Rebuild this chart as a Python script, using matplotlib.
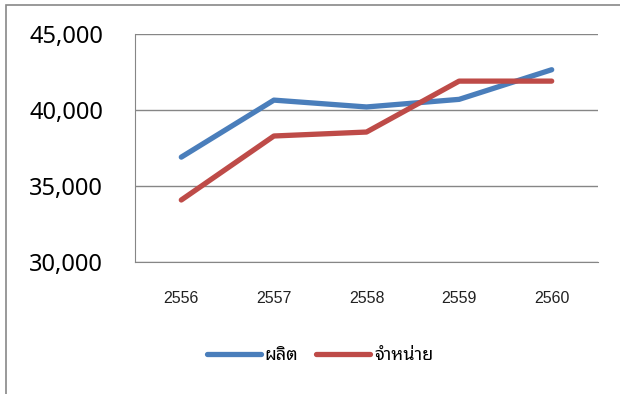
import matplotlib
matplotlib.use('Agg')
import matplotlib.pyplot as plt
from matplotlib.patches import Rectangle
from matplotlib.ticker import FuncFormatter

plt.rcParams['font.family'] = ['Noto Sans Thai Looped', 'DejaVu Sans']

YEARS = ['2556', '2557', '2558', '2559', '2560']
PRODUCED = [36900, 40650, 40200, 40700, 42650]  # ผลิต
SOLD = [34080, 38290, 38550, 41900, 41900]  # จำหน่าย
LABELS = ['ผลิต', 'จำหน่าย']


def main():
    fig = plt.figure(figsize=(6.2, 3.94), dpi=100)
    # chart area border like excel
    fig.patches.append(Rectangle((6 / 620, -0.1), 1.0, 1.0 - 5 / 394 + 0.1,
                                 transform=fig.transFigure, fill=False,
                                 edgecolor='#888888', linewidth=1.2))

    ax = fig.add_axes([135 / 620, 1 - 262 / 394, (598 - 135) / 620, (262 - 34) / 394])
    x = range(len(YEARS))
    ax.plot(x, PRODUCED, color='#4A7EBB', linewidth=3.8, solid_capstyle='round',
            label=LABELS[0])
    ax.plot(x, SOLD, color='#BE4B48', linewidth=3.8, solid_capstyle='round',
            label=LABELS[1])

    ax.set_xlim(-0.5, len(YEARS) - 0.5)
    ax.set_ylim(30000, 45000)
    ax.set_yticks([30000, 35000, 40000, 45000])
    ax.yaxis.set_major_formatter(FuncFormatter(lambda v, p: f'{int(v):,}'))
    ax.set_xticks(list(x))
    ax.set_xticklabels(YEARS, family=['Liberation Sans'], color='#222222')
    ax.grid(axis='y', color='#868686', linewidth=1.0)
    ax.set_axisbelow(True)
    for side in ['top', 'right']:
        ax.spines[side].set_visible(False)
    ax.spines['left'].set_color('#868686')
    ax.spines['bottom'].set_color('#868686')
    ax.tick_params(axis='y', length=0, labelsize=17, pad=23)
    ax.tick_params(axis='x', length=0, labelsize=11.5, pad=21)

    fig.legend(loc='center', bbox_to_anchor=(320 / 620, 1 - 355 / 394), ncol=2,
               frameon=False, fontsize=13, handlelength=3.0, columnspacing=1.0,
               handletextpad=0.2)

    plt.savefig('out.png', dpi=100)


if __name__ == '__main__':
    main()
